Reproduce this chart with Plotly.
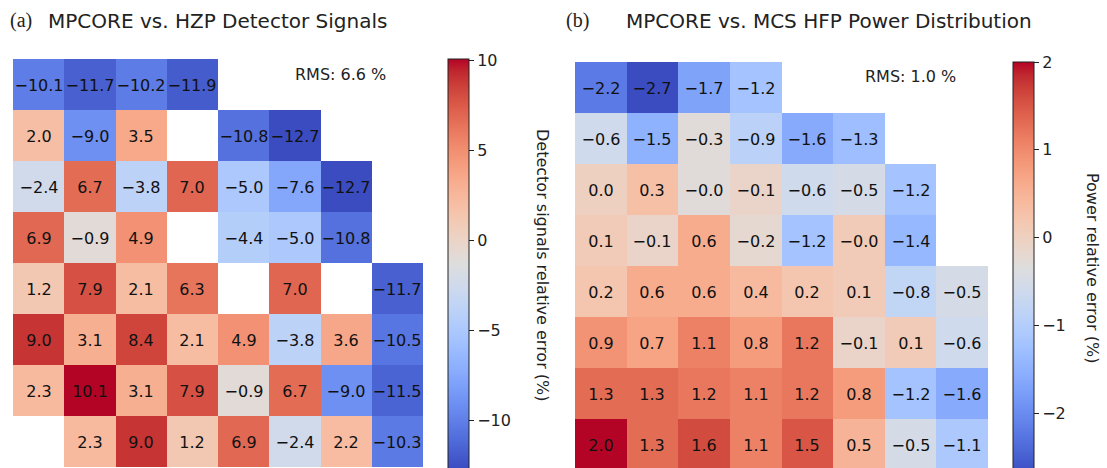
import plotly.graph_objects as go

W, H = 1107, 468

# ---------------- data ----------------
det_err = [
    [-10.1, -11.7, -10.2, -11.9, None, None, None, None],
    [2.0, -9.0, 3.5, None, -10.8, -12.7, None, None],
    [-2.4, 6.7, -3.8, 7.0, -5.0, -7.6, -12.7, None],
    [6.9, -0.9, 4.9, None, -4.4, -5.0, -10.8, None],
    [1.2, 7.9, 2.1, 6.3, None, 7.0, None, -11.7],
    [9.0, 3.1, 8.4, 2.1, 4.9, -3.8, 3.6, -10.5],
    [2.3, 10.1, 3.1, 7.9, -0.9, 6.7, -9.0, -11.5],
    [None, 2.3, 9.0, 1.2, 6.9, -2.4, 2.2, -10.3],
]
pow_err = [
    [-2.2, -2.7, -1.7, -1.2, None, None, None, None],
    [-0.6, -1.5, -0.3, -0.9, -1.6, -1.3, None, None],
    [0.0, 0.3, -0.0, -0.1, -0.6, -0.5, -1.2, None],
    [0.1, -0.1, 0.6, -0.2, -1.2, -0.0, -1.4, None],
    [0.2, 0.6, 0.6, 0.4, 0.2, 0.1, -0.8, -0.5],
    [0.9, 0.7, 1.1, 0.8, 1.2, -0.1, 0.1, -0.6],
    [1.3, 1.3, 1.2, 1.1, 1.2, 0.8, -1.2, -1.6],
    [2.0, 1.3, 1.6, 1.1, 1.5, 0.5, -0.5, -1.1],
]
# colour estimates for the two "-0.0" cells (their shades differ in the picture)
pow_color_override = {(2, 2): -0.3, (3, 5): 0.1}

det_range = (-12.7, 10.1)
pow_range = (-2.7, 2.0)
det_ticks = [-10, -5, 0, 5, 10]
pow_ticks = [-2, -1, 0, 1, 2]
det_rms = "RMS: 6.6 %"
pow_rms = "RMS: 1.0 %"
title_a = "MPCORE vs. HZP Detector Signals"
title_b = "MPCORE vs. MCS HFP Power Distribution"
cbar_a = "Detector signals relative error (%)"
cbar_b = "Power relative error (%)"

# matplotlib coolwarm
cw = [
    (59, 76, 192), (68, 90, 204), (77, 104, 215), (87, 117, 225), (98, 130, 234),
    (108, 142, 241), (119, 154, 247), (130, 165, 251), (141, 176, 254), (152, 185, 255),
    (163, 194, 255), (174, 201, 253), (184, 208, 249), (194, 213, 244), (204, 217, 238),
    (213, 219, 230), (221, 221, 221), (229, 216, 209), (236, 211, 197), (241, 204, 184),
    (245, 196, 172), (247, 187, 160), (247, 177, 148), (247, 166, 135), (244, 154, 123),
    (241, 141, 111), (236, 127, 99), (229, 112, 88), (222, 96, 77), (213, 80, 66),
    (203, 62, 56), (192, 40, 47), (180, 4, 38),
]
colorscale = [[i / (len(cw) - 1), "rgb(%d,%d,%d)" % c] for i, c in enumerate(cw)]


def fmt(v):
    if v is None:
        return ""
    s = "%.1f" % abs(v)
    neg = v < 0 or (v == 0 and str(v).startswith("-"))
    return ("\u2212" + s) if neg else s


def minus(t):
    return str(t).replace("-", "\u2212")


def px(x):
    return x / W


def py(y):
    return 1 - y / H


fig = go.Figure()

det_text = [[fmt(v) for v in row] for row in det_err]
pow_text = [[fmt(v) for v in row] for row in pow_err]
pow_z = [[(pow_color_override.get((r, c), v) if v is not None else None)
          for c, v in enumerate(row)] for r, row in enumerate(pow_err)]

common_cb = dict(
    thicknessmode="pixels", thickness=21, lenmode="pixels",
    xanchor="left", yanchor="top", xpad=0, ypad=0,
    outlinewidth=1, outlinecolor="#222", ticks="outside", ticklen=5,
    tickwidth=1, tickcolor="#222",
    tickfont=dict(family="DejaVu Sans", size=16, color="#222"),
)

fig.add_trace(go.Heatmap(
    z=det_err, text=det_text, texttemplate="%{text}",
    textfont=dict(family="DejaVu Sans", size=16, color="#111"),
    colorscale=colorscale, zmin=det_range[0], zmax=det_range[1],
    xaxis="x", yaxis="y", hoverinfo="skip",
    colorbar=dict(x=px(448), y=py(59), len=410,
                  tickvals=det_ticks, ticktext=[minus(t) for t in det_ticks],
                  **common_cb),
))
fig.add_trace(go.Heatmap(
    z=pow_z, text=pow_text, texttemplate="%{text}",
    textfont=dict(family="DejaVu Sans", size=16, color="#111"),
    colorscale=colorscale, zmin=pow_range[0], zmax=pow_range[1],
    xaxis="x2", yaxis="y2", hoverinfo="skip",
    colorbar=dict(x=px(1013), y=py(62), len=413,
                  tickvals=pow_ticks, ticktext=[minus(t) for t in pow_ticks],
                  **common_cb),
))

ax_hidden = dict(showgrid=False, zeroline=False, showticklabels=False, ticks="",
                 showline=False)
fig.update_layout(
    width=W, height=H, autosize=False,
    margin=dict(l=0, r=0, t=0, b=0, autoexpand=False),
    paper_bgcolor="white", plot_bgcolor="white",
    xaxis=dict(domain=[px(13), px(423)], range=[-0.5, 7.5], **ax_hidden),
    yaxis=dict(domain=[py(467), py(59)], range=[7.5, -0.5], **ax_hidden),
    xaxis2=dict(domain=[px(575), px(988)], range=[-0.5, 7.5], **ax_hidden),
    yaxis2=dict(domain=[0, py(62)], range=[-0.5 + 406 / 51, -0.5], **ax_hidden),
)

ann = []


def add_text(txt, x, y, size, family="DejaVu Sans", xanchor="left", angle=0):
    ann.append(dict(text=txt, x=px(x), y=py(y), xref="paper", yref="paper",
                    xanchor=xanchor, yanchor="middle", showarrow=False,
                    textangle=angle,
                    font=dict(family=family, size=size, color="#222")))


add_text("(a)", 8, 21, 20, family="Liberation Serif")
add_text(title_a, 46, 21, 20)
add_text("(b)", 564, 21, 20, family="Liberation Serif")
add_text(title_b, 624, 21, 20)
add_text(det_rms, 293, 74, 16)
add_text(pow_rms, 863, 77, 16)
add_text(cbar_a, 543, 265, 16, xanchor="center", angle=90)
add_text(cbar_b, 1093, 268, 16, xanchor="center", angle=90)
fig.update_layout(annotations=ann)

fig.write_html(
    "out.html",
    config={"displayModeBar": False},
    post_script="document.body.style.margin='0';document.body.style.overflow='hidden';",
)
